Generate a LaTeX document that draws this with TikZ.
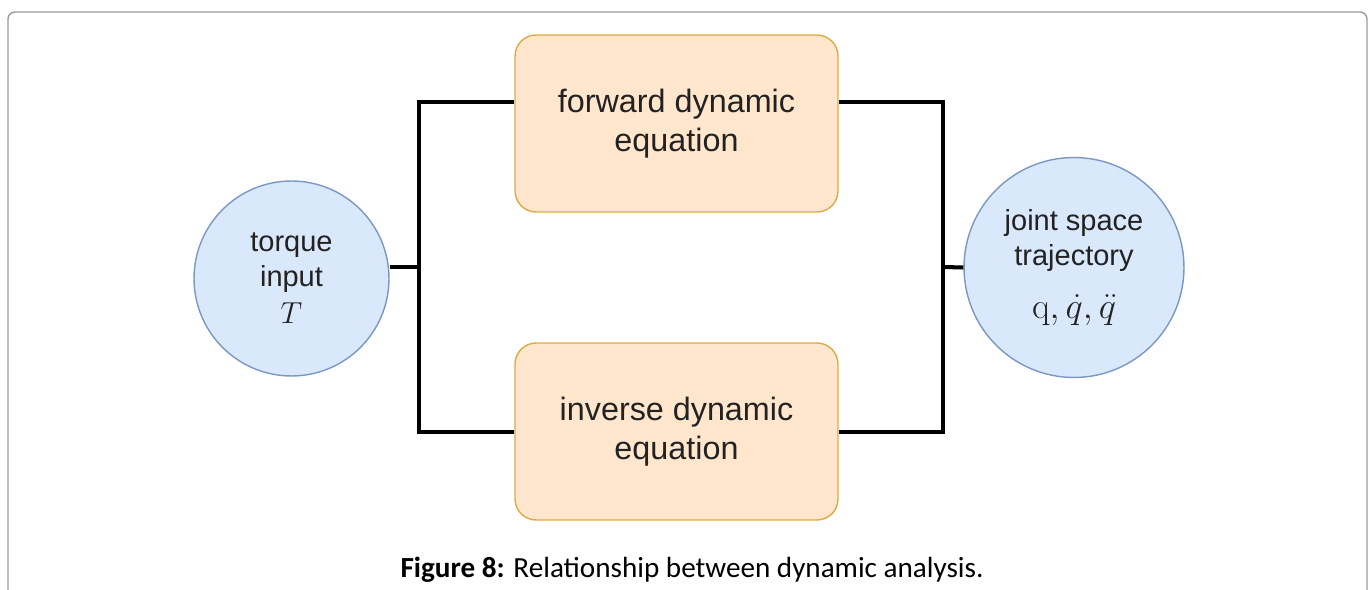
\documentclass[tikz,border=0pt]{standalone}
\usepackage[no-math]{fontspec}
\setmainfont{Liberation Sans}
\newfontfamily\capfont{Carlito}
\usetikzlibrary{calc}
\definecolor{circfill}{HTML}{DAE8FC}
\definecolor{circline}{HTML}{7A98C2}
\definecolor{boxfill}{HTML}{FFE6CC}
\definecolor{boxline}{HTML}{DDAA44}
\definecolor{framecol}{HTML}{9A9A9A}
\definecolor{txt}{HTML}{222222}
\tikzset{
  px/.style={x=0.02cm,y=-0.02cm},
  eqbox/.style={draw=boxline, fill=boxfill, line width=0.8pt, rounded corners=0.42cm,
    minimum width=6.46cm, minimum height=3.54cm, align=center, text=txt,
    font=\fontsize{18.4}{22}\selectfont},
  state/.style={circle, draw=circline, fill=circfill, line width=0.8pt, inner sep=0pt,
    align=center, text=txt, font=\fontsize{16.5}{20}\selectfont},
  wire/.style={line width=2.3pt, black, line join=miter},
}
\begin{document}
\begin{tikzpicture}[px]
  \useasboundingbox (0,0) rectangle (1372,590);
  % outer frame, open at the bottom
  \draw[framecol, line width=0.8pt, rounded corners=0.14cm] (8,600) -- (8,12) -- (1367,12) -- (1367,600);

  % blocks
  \node[eqbox] (fwd) at (676.5,123.5) {forward dynamic\\equation};
  \node[eqbox] (inv) at (676.5,431.5) {inverse dynamic\\equation};
  \node[state, minimum size=3.9cm] (tin) at (291.5,278.5) {torque\\input\\[1pt]\fontsize{19}{22}\selectfont$T$};
  \node[state, minimum size=4.4cm] (jst) at (1074,267.5) {joint space\\trajectory\\[10pt]\fontsize{20}{22}\selectfont$\mathrm{q},\dot{q},\ddot{q}$};

  % junction points of the wiring
  \coordinate (lt) at (419,102);
  \coordinate (lm) at (419,267);
  \coordinate (lb) at (419,432);
  \coordinate (rt) at (943,102);
  \coordinate (rm) at (943,267);
  \coordinate (rb) at (943,432);

  \draw[wire] (fwd.west |- lt) -- (lt) -- (lb) -- (inv.west |- lb);
  \draw[wire] (lm -| tin.east) -- (lm);
  \draw[wire] (fwd.east |- rt) -- (rt) -- (rb) -- (inv.east |- rb);
  \draw[wire] (rm) -- (jst.west);

  % caption
  \node[anchor=base, text=black, font=\capfont\fontsize{16.6}{19}\selectfont] (cap) at (692,578)
    {\textbf{Figure 8:} Relationship between dynamic analysis.};
\end{tikzpicture}
\end{document}
